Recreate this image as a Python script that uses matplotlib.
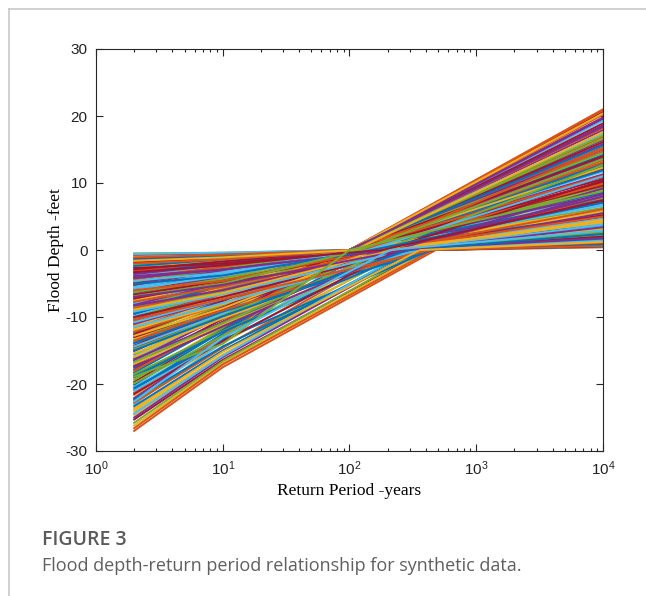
import matplotlib
matplotlib.use('Agg')
import matplotlib.pyplot as plt
from matplotlib.lines import Line2D
from matplotlib.ticker import LogLocator, NullFormatter

plt.rcParams['mathtext.fontset'] = 'custom'
plt.rcParams['mathtext.rm'] = 'Liberation Sans'
plt.rcParams['mathtext.default'] = 'regular'
plt.rcParams['axes.unicode_minus'] = False

# flood depth (feet) at T = 2 yr and T = 10 yr, zero crossing return period,
# and depth at T = 10^4 yr, one entry per synthetic record
depth_2 = [
    -12.4, -3.1, -21.7, -7.9, -0.5, -16.2, -25.3, -9.6, -4.4, -19.1, -13.8, -1.7,
    -23.0, -6.2, -10.9, -27.0, -2.6, -15.1, -8.5, -20.4, -5.3, -17.6, -11.7, -0.9,
    -14.6, -22.5, -3.8, -9.1, -18.3, -6.8, -24.6, -1.3, -12.9, -16.8, -4.9, -20.9,
    -7.4, -26.2, -10.3, -2.2, -14.1, -19.7, -5.8, -11.2, -23.6, -0.7, -15.6, -8.0,
    -17.2, -3.4, -21.3, -13.3, -6.5, -25.8, -9.9, -1.9, -18.7, -4.1, -12.0, -22.1,
    -7.1, -15.9, -2.9, -20.1, -10.6, -24.1, -5.0, -13.6, -0.6, -17.9, -8.8, -26.6,
    -11.4, -3.6, -19.4, -6.0, -14.9, -1.5, -22.8, -9.3, -16.5, -4.7, -21.0, -12.6,
    -2.4, -18.0, -7.6, -25.0, -10.1, -5.5, -14.3, -23.3, -1.1, -16.0, -8.2, -19.9,
    -5.7, -13.0, -9.4, -2.0, -17.0, -11.0, -6.3, -14.4, -3.3, -20.6, -8.7, -15.4,
    -4.2, -18.5, -10.8, -7.2, -22.3, -12.2, -1.6, -16.3, -9.0, -24.4, -6.7, -13.9,
    -6.0, -11.8, -8.3, -14.8, -4.6, -10.0, -19.0, -7.7, -12.8, -3.9, -16.7, -9.2,
    -21.5, -5.1, -13.5, -8.9, -17.4, -6.9, -11.5, -2.7, -15.0, -10.4, -23.8, -7.0,
    -18.9, -22.6,
]
depth_10 = [
    -7.4, -1.9, -13.9, -4.7, -0.4, -9.7, -16.4, -5.8, -2.6, -11.5, -8.3, -1.0,
    -13.8, -3.7, -6.5, -17.5, -1.6, -9.1, -5.1, -13.0, -3.2, -11.3, -7.0, -0.6,
    -8.8, -14.5, -2.3, -5.5, -11.0, -4.1, -15.9, -0.8, -7.7, -10.7, -2.9, -12.5,
    -4.4, -16.9, -6.2, -1.3, -8.5, -11.8, -3.5, -6.7, -15.1, -0.5, -9.4, -4.8,
    -10.3, -2.0, -12.8, -8.0, -3.9, -16.6, -5.9, -1.1, -12.0, -2.5, -7.2, -13.3,
    -4.3, -9.5, -1.7, -12.1, -6.4, -15.6, -3.0, -8.2, -0.4, -10.7, -5.3, -17.1,
    -6.8, -2.2, -11.6, -3.6, -8.9, -0.9, -14.6, -5.6, -9.9, -2.8, -13.6, -7.6,
    -1.4, -10.8, -4.6, -16.0, -6.1, -3.3, -8.6, -15.0, -0.7, -9.6, -4.9, -12.8,
    -3.9, -8.6, -6.3, -1.4, -11.2, -7.4, -4.3, -9.5, -2.3, -13.4, -5.9, -10.2,
    -2.9, -12.1, -7.3, -4.9, -14.4, -8.1, -1.1, -10.8, -6.1, -15.8, -4.6, -9.2,
    -4.6, -8.1, -6.0, -9.8, -3.4, -7.0, -12.2, -5.5, -8.7, -2.9, -10.9, -6.6,
    -13.6, -3.8, -9.0, -6.4, -11.4, -5.0, -7.9, -2.0, -9.9, -7.3, -15.2, -5.2,
    -14.0, -13.1,
]
zero_T = [
    100, 100, 200, 100, 100, 100, 400, 100, 100, 100, 100, 100,
    100, 100, 100, 480, 100, 100, 100, 170, 100, 190, 100, 100,
    100, 280, 100, 100, 100, 100, 300, 100, 100, 130, 100, 100,
    100, 420, 100, 100, 100, 100, 100, 100, 260, 100, 100, 100,
    100, 100, 100, 100, 100, 380, 100, 100, 150, 100, 100, 100,
    100, 100, 100, 100, 100, 360, 100, 100, 100, 100, 100, 450,
    100, 100, 100, 100, 100, 100, 230, 100, 100, 100, 250, 100,
    100, 100, 100, 340, 100, 100, 100, 320, 100, 100, 100, 210,
    140, 220, 310, 120, 270, 400, 180, 350, 160, 440, 240, 290,
    200, 330, 260, 470, 370, 130, 110, 230, 420, 300, 190, 460,
    170, 210, 250, 180, 140, 300, 330, 190, 160, 230, 200, 280,
    240, 150, 390, 220, 260, 120, 350, 180, 290, 440, 360, 270,
    100, 210,
]
depth_10000 = [
    8.6, 15.3, 2.1, 19.8, 4.2, 11.7, 0.6, 6.9, 13.4, 1.6, 17.9, 9.8,
    3.3, 20.6, 12.5, 0.4, 7.7, 16.4, 1.0, 3.4, 10.6, 1.8, 14.7, 5.4,
    18.6, 1.2, 8.1, 12.1, 2.7, 21.0, 0.9, 15.8, 6.3, 4.6, 10.2, 13.0,
    16.9, 0.5, 4.9, 9.4, 19.3, 7.3, 14.2, 2.4, 1.5, 11.3, 5.9, 17.4,
    3.7, 12.8, 20.2, 8.9, 15.0, 0.8, 6.6, 10.9, 3.9, 18.2, 1.9, 13.8,
    9.1, 4.4, 16.1, 11.9, 20.9, 1.1, 7.0, 14.5, 2.9, 18.9, 5.1, 0.7,
    12.3, 8.3, 17.1, 1.3, 10.0, 15.6, 2.6, 6.0, 19.6, 3.1, 2.0, 14.0,
    7.5, 11.1, 20.4, 1.4, 16.6, 4.0, 9.6, 1.7, 13.1, 5.7, 18.4, 3.0,
    6.8, 2.3, 3.6, 9.9, 1.0, 0.9, 12.7, 2.8, 5.2, 0.5, 7.9, 4.3,
    8.0, 2.2, 4.7, 0.6, 1.6, 15.1, 17.6, 5.5, 1.2, 3.5, 10.4, 0.8,
    5.0, 3.2, 8.4, 2.5, 11.0, 1.9, 1.3, 6.1, 4.1, 9.2, 2.7, 3.8,
    2.0, 7.1, 1.1, 4.5, 1.8, 13.6, 1.4, 7.4, 2.4, 0.6, 1.2, 3.4,
    8.8, 2.9,
]

# matlab default colour order
colors = ['#0072BD', '#D95319', '#EDB120', '#7E2F8E', '#77AC30', '#4DBEEE', '#A2142F']

fig = plt.figure(figsize=(6.46, 5.96), dpi=100)
ax = fig.add_axes([96 / 646, 1 - 451 / 596, 507 / 646, 402 / 596])

for i in range(len(depth_2)):
    ax.semilogx([2, 10, zero_T[i], 1e4],
                [depth_2[i], depth_10[i], 0, depth_10000[i]],
                color=colors[i % len(colors)], lw=1.4, solid_joinstyle='miter')

ax.set_xlim(1, 1e4)
ax.set_ylim(-30, 30)
ax.set_yticks([-30, -20, -10, 0, 10, 20, 30])
ax.xaxis.set_major_locator(LogLocator(base=10, numticks=10))
ax.xaxis.set_minor_locator(LogLocator(base=10, subs=range(2, 10), numticks=50))
ax.xaxis.set_minor_formatter(NullFormatter())

axis_col = '#262626'
for s in ax.spines.values():
    s.set_color(axis_col)
    s.set_linewidth(0.8)
ax.tick_params(which='both', direction='in', top=True, right=True, colors=axis_col,
               labelcolor='#222222', labelsize=11, width=0.8)
ax.tick_params(which='major', length=5, pad=6)
ax.tick_params(which='minor', length=2.5)
for lab in ax.get_yticklabels():
    lab.set_family('Liberation Sans')
for lab in ax.get_xticklabels():
    lab.set_family('Liberation Sans')

ax.set_xlabel('Return Period -years', family='Liberation Serif', fontsize=12.5, labelpad=4)
ax.set_ylabel('Flood Depth -feet', family='Liberation Serif', fontsize=12.5, labelpad=1)

# page frame lines
fig.add_artist(Line2D([9 / 646, 1], [1 - 9 / 596, 1 - 9 / 596], color='#c8c8c8', lw=1.2))
fig.add_artist(Line2D([9 / 646, 9 / 646], [0, 1 - 9 / 596], color='#c8c8c8', lw=1.2))

fig.text(42 / 646, 1 - 540 / 596, 'FIGURE 3', family='Open Sans', weight='semibold',
         fontsize=14, color='#5a5a5a', va='center', ha='left')
fig.text(42 / 646, 1 - 566 / 596, 'Flood depth-return period relationship for synthetic data.',
         family='Open Sans', fontsize=13, color='#5f5f5f', va='center', ha='left')

fig.savefig('out.png', dpi=100)
